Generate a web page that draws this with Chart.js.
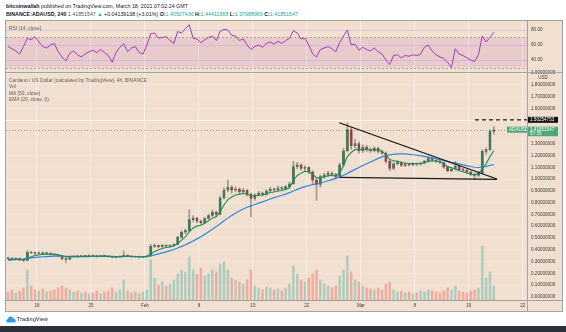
<!DOCTYPE html>
<html>
<head>
<meta charset="utf-8">
<title>ADAUSD 4h</title>
<script src="https://cdn.jsdelivr.net/npm/chart.js@4.4.1/dist/chart.umd.min.js"></script>
<style>
  html, body { margin: 0; padding: 0; background: #fff; }
  body { position: relative; width: 566px; height: 332px; overflow: hidden; font-family: 'Liberation Sans', Arial, sans-serif; color: #131722; }
  .head { position: absolute; left: 6px; font-size: 5.3px; line-height: 6px; white-space: nowrap; }
  .up { color: #26a69a; }
  #panel { position: absolute; left: 5px; top: 20px; width: 558px; height: 292px; box-sizing: border-box; border: 1px solid #a3a3a3; background: #f1dfcf; }
  canvas { position: absolute; }
  .rule { position: absolute; background: #a3a3a3; }
  .legend { position: absolute; left: 9px; font-size: 4.9px; line-height: 6.6px; color: #606060; white-space: nowrap; }
  #brand { position: absolute; left: 17px; top: 316px; font-size: 5.6px; line-height: 6px; color: #222; }
  #logo { position: absolute; left: 6px; top: 316px; }
  #footer { position: absolute; left: 0; top: 326px; width: 566px; height: 6px; background: #2d313b; }
</style>
</head>
<body>
<div class="head" style="top:3px"><b>bitcoinwallah</b> published on TradingView.com, March 18, 2021 07:02:24 GMT</div>
<div class="head" style="top:11px"><b>BINANCE:ADAUSD, 240</b> <span style="color:#555">1.41851547</span> <span class="up">▲</span> +0.04139138 (+3.01%) <b>O:</b><span class="up">1.40507436</span> <b>H:</b><span class="up">1.44411668</span> <b>L:</b><span class="up">1.37988969</span> <b>C:</b><span class="up">1.41851547</span></div>

<div id="panel"></div>
<canvas id="rsiChart" width="556" height="51" style="left:6px;top:21px"></canvas>
<canvas id="priceChart" width="556" height="245" style="left:6px;top:66px"></canvas>
<div class="rule" style="left:6px;top:72px;width:556px;height:1px"></div>
<div class="rule" style="left:6px;top:300px;width:556px;height:1px"></div>
<div class="rule" style="left:527px;top:21px;width:1px;height:290px"></div>

<div class="legend" style="top:26px">RSI (14, close)</div>
<div class="legend" style="top:77.5px">Cardano / US Dollar (calculated by TradingView), 4h, BINANCE<br>Vol<br>MA (50, close)<br>EMA (20, close, 0)</div>

<svg id="logo" width="10" height="7" viewBox="0 0 10 7"><path d="M2.2 6.6 C0.9 6.6 0.2 5.8 0.2 4.9 C0.2 4 0.9 3.3 1.8 3.3 C2 1.8 3.2 0.6 4.8 0.6 C6.2 0.6 7.3 1.5 7.6 2.8 C8.9 2.8 9.8 3.8 9.8 4.8 C9.8 5.8 9 6.6 7.9 6.6 Z" fill="#2a9ff0"/></svg>
<div id="brand">TradingView</div>
<div id="footer"></div>

<script>
document.addEventListener('DOMContentLoaded', function () {
    // time axis counted in days from 18 Jan 00:00; candles are 12h
    const firstDay = -4;
    const candleSpan = 0.5;

    // [open, high, low, close]
    const ohlc = [
        [.330, .334, .318, .325], [.325, .330, .314, .318], [.318, .332, .315, .326], [.326, .328, .308, .312],   // 14-15 Jan
        [.312, .318, .300, .308], [.308, .392, .305, .378], [.378, .386, .366, .372], [.372, .380, .360, .368],   // 16-17 Jan
        [.368, .382, .362, .375], [.375, .379, .360, .366], [.366, .377, .361, .371], [.371, .374, .355, .362],   // 18-19 Jan
        [.362, .366, .350, .356], [.356, .360, .340, .348], [.348, .351, .315, .322], [.322, .330, .290, .318],   // 20-21 Jan
        [.318, .342, .314, .338], [.338, .350, .333, .345], [.345, .349, .336, .342], [.342, .353, .339, .348],   // 22-23 Jan
        [.348, .351, .339, .344], [.344, .356, .341, .351], [.351, .354, .341, .346], [.346, .349, .336, .342],   // 24-25 Jan
        [.342, .353, .339, .349], [.349, .352, .340, .345], [.345, .348, .335, .340], [.340, .343, .330, .335],   // 26-27 Jan
        [.335, .342, .331, .338], [.338, .349, .335, .344], [.344, .390, .341, .352], [.352, .356, .341, .346],   // 28-29 Jan
        [.346, .349, .333, .338], [.338, .346, .335, .342], [.342, .345, .331, .336], [.336, .344, .333, .340],   // 30-31 Jan
        [.340, .350, .337, .345], [.345, .445, .343, .428], [.428, .448, .420, .435], [.435, .440, .415, .425],   // 1-2 Feb
        [.425, .444, .421, .438], [.438, .442, .422, .430], [.430, .441, .425, .436], [.436, .452, .431, .445],   // 3-4 Feb
        [.445, .515, .440, .505], [.505, .560, .498, .548], [.548, .575, .535, .562], [.562, .740, .555, .655],   // 5-6 Feb
        [.655, .690, .640, .668], [.668, .675, .630, .642], [.642, .652, .615, .630], [.630, .675, .622, .665],   // 7-8 Feb
        [.665, .702, .655, .690], [.690, .735, .680, .720], [.720, .728, .680, .700], [.700, .855, .695, .840],   // 9-10 Feb
        [.840, .925, .830, .905], [.905, .990, .890, .930], [.930, .945, .880, .905], [.905, .935, .890, .915],   // 11-12 Feb
        [.915, .925, .870, .890], [.890, .920, .880, .905], [.905, .912, .855, .870], [.870, .880, .680, .835],   // 13-14 Feb
        [.835, .875, .820, .865], [.865, .895, .855, .880], [.880, .890, .855, .870], [.870, .910, .862, .900],   // 15-16 Feb
        [.900, .930, .890, .915], [.915, .925, .895, .905], [.905, .940, .898, .925], [.925, .935, .905, .918],   // 17-18 Feb
        [.918, .945, .910, .935], [.935, .975, .925, .960], [.960, 1.150, .955, 1.105], [1.105, 1.140, 1.085, 1.120], // 19-20 Feb
        [1.120, 1.130, 1.075, 1.090], [1.090, 1.115, 1.070, 1.100], [1.100, 1.105, 1.045, 1.060], [1.060, 1.070, .960, .990], // 21-22 Feb
        [.990, 1.010, .820, .955], [.955, 1.035, .930, 1.020], [1.020, 1.050, 1.005, 1.035], [1.035, 1.065, 1.020, 1.050], // 23-24 Feb
        [1.050, 1.060, 1.025, 1.040], [1.040, 1.048, 1.000, 1.015], [1.015, 1.135, 1.010, 1.120], [1.120, 1.260, 1.110, 1.240], // 25-26 Feb
        [1.240, 1.475, 1.230, 1.420], [1.420, 1.435, 1.250, 1.280], [1.280, 1.340, 1.265, 1.300], [1.300, 1.315, 1.220, 1.240], // 27-28 Feb
        [1.240, 1.290, 1.225, 1.270], [1.270, 1.285, 1.235, 1.250], [1.250, 1.265, 1.225, 1.240], [1.240, 1.275, 1.230, 1.260], // 1-2 Mar
        [1.260, 1.270, 1.220, 1.235], [1.235, 1.245, 1.205, 1.220], [1.220, 1.228, 1.135, 1.150], [1.150, 1.160, 1.070, 1.090], // 3-4 Mar
        [1.090, 1.140, 1.080, 1.130], [1.130, 1.155, 1.120, 1.140], [1.140, 1.148, 1.105, 1.115], [1.115, 1.135, 1.105, 1.125], // 5-6 Mar
        [1.125, 1.132, 1.110, 1.120], [1.120, 1.140, 1.112, 1.130], [1.130, 1.138, 1.115, 1.125], [1.125, 1.145, 1.118, 1.135], // 7-8 Mar
        [1.135, 1.160, 1.128, 1.150], [1.150, 1.190, 1.142, 1.175], [1.175, 1.182, 1.150, 1.160], [1.160, 1.168, 1.140, 1.150], // 9-10 Mar
        [1.150, 1.158, 1.130, 1.140], [1.140, 1.145, 1.090, 1.100], [1.100, 1.108, 1.060, 1.070], [1.070, 1.095, 1.062, 1.085], // 11-12 Mar
        [1.085, 1.150, 1.078, 1.110], [1.110, 1.118, 1.070, 1.080], [1.080, 1.090, 1.065, 1.075], [1.075, 1.082, 1.050, 1.060], // 13-14 Mar
        [1.060, 1.068, 1.030, 1.040], [1.040, 1.050, .995, 1.030], [1.030, 1.060, 1.022, 1.050], [1.050, 1.250, 1.045, 1.235], // 15-16 Mar
        [1.235, 1.265, 1.210, 1.250], [1.250, 1.420, 1.240, 1.405], [1.40507436, 1.44411668, 1.37988969, 1.41851547]        // 17-18 Mar
    ];

    const volume = [
        80, 100, 70, 90, 120, 300, 140, 100, 90, 110, 80, 90, 100, 120, 140, 120,
        100, 80, 90, 70, 80, 60, 70, 90, 60, 80, 90, 120, 80, 100, 200, 90, 70, 80, 60, 80, 100,
        400, 220, 150, 180, 140, 160, 200, 260, 300, 280, 430,
        300, 260, 320, 240, 260, 300, 280, 360, 380, 300, 220, 200, 180, 160, 200, 300,
        140, 120, 100, 130, 120, 100, 110, 90, 120, 160, 340, 260, 200, 180, 220, 260, 300,
        200, 160, 140, 120, 140, 240, 300, 440, 280, 200, 180, 140, 120, 110, 100, 120, 100, 160, 180,
        100, 80, 90, 70, 80, 60, 70, 90, 80, 100, 90, 80, 70, 90, 120, 100, 140, 90, 80, 70, 90, 100, 120,
        540, 220, 280, 140
    ];

    const rsi14 = [
        58, 55, 52, 48, 58, 69, 67, 71, 64, 58,
        56, 60, 62, 51, 44, 39, 49, 52, 47, 44,
        48, 51, 53, 50, 54, 50, 46, 37, 50, 57,
        62, 51, 56, 58, 50, 48, 60, 75, 76, 69,
        70, 71, 66, 62, 78, 76, 82, 87, 69, 68,
        63, 67, 70, 72, 66, 78, 81, 80, 73, 72,
        66, 68, 60, 54, 58, 60, 57, 62, 64, 61,
        65, 62, 66, 69, 79, 76, 68, 69, 60, 48,
        44, 54, 56, 58, 55, 51, 63, 72, 80, 60,
        61, 53, 57, 54, 52, 56, 51, 48, 40, 34,
        46, 47, 43, 46, 45, 47, 46, 48, 57, 60,
        52, 47, 44, 42, 37, 30, 55, 48, 46, 43,
        40, 38, 47, 72, 64, 70, 77
    ];

    const ma50 = [
        .310, .313, .316, .319, .322, .326, .330, .334, .337, .340,
        .342, .344, .346, .346, .345, .344, .343, .343, .342, .342,
        .342, .342, .343, .343, .344, .344, .344, .343, .342, .342,
        .342, .343, .343, .342, .342, .342, .343, .348, .356, .364,
        .373, .382, .392, .402, .414, .428, .442, .458, .474, .492,
        .510, .530, .552, .574, .596, .620, .645, .668, .690, .710,
        .728, .745, .760, .772, .784, .795, .806, .818, .830, .842,
        .852, .862, .872, .884, .898, .912, .925, .936, .945, .952,
        .958, .966, .975, .985, .995, 1.005, 1.018, 1.032, 1.048, 1.065,
        1.082, 1.098, 1.115, 1.130, 1.145, 1.160, 1.175, 1.188, 1.198, 1.205,
        1.210, 1.213, 1.214, 1.213, 1.210, 1.206, 1.202, 1.198, 1.192, 1.186,
        1.180, 1.172, 1.165, 1.158, 1.150, 1.142, 1.135, 1.128, 1.120, 1.113,
        1.106, 1.100, 1.098, 1.102, 1.108, 1.115, 1.122
    ];

    const ema20 = [
        .318, .318, .319, .317, .314, .328, .340, .350, .357, .360,
        .362, .362, .360, .356, .348, .340, .339, .340, .341, .342,
        .343, .345, .345, .344, .345, .345, .343, .341, .340, .341,
        .344, .345, .343, .342, .340, .339, .341, .365, .385, .398,
        .410, .418, .424, .432, .452, .482, .510, .552, .585, .600,
        .608, .625, .645, .668, .680, .725, .780, .825, .848, .865,
        .870, .878, .872, .858, .858, .862, .864, .874, .885, .890,
        .898, .903, .912, .925, .985, 1.030, 1.050, 1.065, 1.062, 1.040,
        1.010, 1.012, 1.018, 1.028, 1.032, 1.026, 1.050, 1.110, 1.190, 1.225,
        1.250, 1.248, 1.252, 1.250, 1.247, 1.250, 1.244, 1.236, 1.205, 1.165,
        1.155, 1.150, 1.140, 1.136, 1.132, 1.131, 1.130, 1.132, 1.138, 1.150,
        1.155, 1.153, 1.148, 1.130, 1.105, 1.095, 1.085, 1.070, 1.062, 1.052,
        1.040, 1.034, 1.048, 1.085, 1.130, 1.190, 1.240
    ];

    const xTickDays = [0, 7, 14, 21, 28, 35, 42, 49, 56, 63];
    const xTickLabels = ['18', '25', 'Feb', '8', '15', '22', 'Mar', '8', '15', '22'];
    const priceTicks = [0, 0.1, 0.2, 0.3, 0.4, 0.5, 0.6, 0.7, 0.8, 0.9, 1.0, 1.1, 1.2, 1.3, 1.4, 1.5, 1.6, 1.7, 1.8, 1.9];
    const rsiTicks = [40, 60, 80];

    // drawings: alert level, falling wedge top and flat base
    const alertLevel = 1.50254753;
    const alertFrom = 56.8;
    const resistance = [[39.2, 1.478], [59.66, 1.0]];
    const support = [[39.3, 1.014], [59.66, 0.997]];

    const xMin = -4.02;
    const xMax = 63.55;
    const tickFont = { family: "'Liberation Sans', Arial, sans-serif", size: 4.6 };
    const lastClose = ohlc[ohlc.length - 1][3];

    const candleX = ohlc.map((c, i) => firstDay + i * candleSpan + candleSpan / 2);
    const isUp = ohlc.map(c => c[3] >= c[0]);
    const toPoints = arr => arr.map((v, i) => ({ x: candleX[i], y: v }));

    // fixed axis width, and no label padding eating into the plot height
    function fitPriceAxis(s) {
        s.width = 35;
        s.paddingTop = 0;
        s.paddingBottom = 0;
    }

    function timeAxis(showLabels) {
        return {
            type: 'linear',
            min: xMin,
            max: xMax,
            offset: false,
            afterBuildTicks: s => { s.ticks = xTickDays.map(v => ({ value: v })); },
            afterFit: s => {
                s.height = showLabels ? 11 : 0;
                s.paddingLeft = 0;
                s.paddingRight = 0;
            },
            grid: { color: 'rgba(255,255,255,0.55)', drawTicks: false, offset: false },
            border: { display: false },
            ticks: {
                display: showLabels,
                autoSkip: false,
                maxRotation: 0,
                padding: 3,
                color: '#444',
                font: tickFont,
                callback: v => xTickLabels[xTickDays.indexOf(v)]
            }
        };
    }

    // overbought / oversold band
    const rsiBand = {
        id: 'rsiBand',
        beforeDatasetsDraw(chart) {
            const { ctx, chartArea: a, scales: { y } } = chart;
            const top = y.getPixelForValue(70);
            const bottom = y.getPixelForValue(30);
            ctx.save();
            ctx.fillStyle = 'rgba(156,39,176,0.1)';
            ctx.fillRect(a.left, top, a.right - a.left, bottom - top);
            ctx.strokeStyle = 'rgba(120,120,120,0.55)';
            ctx.lineWidth = 1;
            ctx.setLineDash([2, 2]);
            [top, bottom].forEach(py => {
                ctx.beginPath();
                ctx.moveTo(a.left, Math.round(py) + 0.5);
                ctx.lineTo(a.right, Math.round(py) + 0.5);
                ctx.stroke();
            });
            ctx.restore();
        }
    };

    function tag(ctx, x, top, w, h, fill, lines) {
        ctx.fillStyle = fill;
        ctx.fillRect(x, top, w, h);
        ctx.fillStyle = '#fff';
        ctx.textBaseline = 'middle';
        ctx.textAlign = 'left';
        ctx.font = "4.6px 'Liberation Sans', Arial, sans-serif";
        lines.forEach((t, i) => ctx.fillText(t, x + 2, top + 3 + i * 4.2));
    }

    const priceOverlay = {
        id: 'priceOverlay',
        beforeDatasetsDraw(chart) {
            const { ctx, chartArea: a, scales: { y } } = chart;
            ctx.save();
            ctx.lineWidth = 1;
            const ya = Math.round(y.getPixelForValue(alertLevel)) + 0.5;
            ctx.strokeStyle = 'rgba(255,255,255,0.7)';
            ctx.beginPath();
            ctx.moveTo(a.left, ya);
            ctx.lineTo(a.right, ya);
            ctx.stroke();
            const yc = Math.round(y.getPixelForValue(lastClose)) + 0.5;
            ctx.strokeStyle = 'rgba(110,105,80,0.6)';
            ctx.setLineDash([1, 2]);
            ctx.beginPath();
            ctx.moveTo(a.left, yc);
            ctx.lineTo(a.right, yc);
            ctx.stroke();
            ctx.restore();
        },
        afterDraw(chart) {
            const { ctx, chartArea: a, scales: { y } } = chart;
            ctx.save();
            ctx.fillStyle = '#444';
            ctx.font = "4.6px 'Liberation Sans', Arial, sans-serif";
            ctx.textAlign = 'center';
            ctx.textBaseline = 'middle';
            ctx.fillText('USD', a.right + 16, y.getPixelForValue(1.9) + 5);
            const ya = y.getPixelForValue(alertLevel);
            tag(ctx, a.right + 1, ya - 3, 30, 6, '#131313', [alertLevel.toFixed(8)]);
            const yc = y.getPixelForValue(lastClose);
            tag(ctx, a.right + 1, yc - 3, 30, 9.5, '#4fa877', [lastClose.toFixed(8), '57:35']);
            tag(ctx, a.right - 20, yc - 3, 20, 6, '#4fa877', ['ADAUSD']);
            ctx.restore();
        }
    };

    new Chart(document.getElementById('rsiChart').getContext('2d'), {
        type: 'line',
        data: {
            datasets: [{
                data: toPoints(rsi14),
                borderColor: '#a23bbd',
                borderWidth: 1,
                pointRadius: 0,
                tension: 0
            }]
        },
        options: {
            animation: false,
            responsive: false,
            devicePixelRatio: 1,
            layout: { padding: 0, autoPadding: false },
            plugins: { legend: { display: false }, tooltip: { enabled: false } },
            scales: {
                x: timeAxis(false),
                y: {
                    position: 'right',
                    min: 24,
                    max: 92,
                    afterBuildTicks: s => { s.ticks = rsiTicks.map(v => ({ value: v })); },
                    afterFit: fitPriceAxis,
                    grid: { color: 'rgba(205,185,235,0.6)', drawTicks: false },
                    border: { display: false },
                    ticks: { padding: 4, color: '#3c3c3c', font: tickFont, callback: v => v.toFixed(2) }
                }
            }
        },
        plugins: [rsiBand]
    });

    new Chart(document.getElementById('priceChart').getContext('2d'), {
        type: 'bar',
        data: {
            datasets: [
                {
                    label: 'Vol',
                    yAxisID: 'vol',
                    data: toPoints(volume),
                    backgroundColor: isUp.map(u => u ? 'rgba(38,166,154,0.34)' : 'rgba(239,83,80,0.38)'),
                    barThickness: 1.8,
                    grouped: false,
                    order: 10
                },
                {
                    label: 'wicks',
                    data: ohlc.map((c, i) => ({ x: candleX[i], y: [c[2], c[1]] })),
                    backgroundColor: 'rgba(110,105,100,0.6)',
                    barThickness: 1,
                    grouped: false,
                    order: 8
                },
                {
                    label: 'ADAUSD',
                    data: ohlc.map((c, i) => ({ x: candleX[i], y: [c[0], c[3]] })),
                    backgroundColor: isUp.map(u => u ? '#34805a' : '#a83a36'),
                    borderColor: 'rgba(35,35,35,0.55)',
                    borderWidth: 0.5,
                    borderSkipped: false,
                    barThickness: 2.4,
                    minBarLength: 1,
                    grouped: false,
                    order: 7
                },
                {
                    type: 'line',
                    label: 'MA (50, close)',
                    data: toPoints(ma50),
                    borderColor: '#2f86e0',
                    borderWidth: 1.2,
                    pointRadius: 0,
                    order: 5
                },
                {
                    type: 'line',
                    label: 'EMA (20, close, 0)',
                    data: toPoints(ema20),
                    borderColor: '#17905e',
                    borderWidth: 1.1,
                    pointRadius: 0,
                    order: 4
                },
                {
                    type: 'line',
                    label: 'alert',
                    data: [{ x: alertFrom, y: alertLevel }, { x: xMax, y: alertLevel }],
                    borderColor: '#1a1a1a',
                    borderWidth: 1.3,
                    borderDash: [4, 3],
                    pointRadius: 0,
                    order: 3
                },
                {
                    type: 'line',
                    label: 'resistance',
                    data: resistance.map(p => ({ x: p[0], y: p[1] })),
                    borderColor: '#111',
                    borderWidth: 1.2,
                    pointRadius: 0,
                    order: 2
                },
                {
                    type: 'line',
                    label: 'support',
                    data: support.map(p => ({ x: p[0], y: p[1] })),
                    borderColor: '#1b1b1b',
                    borderWidth: 1.2,
                    pointRadius: 0,
                    order: 1
                }
            ]
        },
        options: {
            animation: false,
            responsive: false,
            devicePixelRatio: 1,
            layout: { padding: { top: 7 }, autoPadding: false },
            plugins: { legend: { display: false }, tooltip: { enabled: false } },
            scales: {
                x: timeAxis(true),
                y: {
                    position: 'right',
                    min: -0.027,
                    max: 1.9,
                    afterBuildTicks: s => { s.ticks = priceTicks.map(v => ({ value: v })); },
                    afterFit: fitPriceAxis,
                    grid: { color: 'rgba(255,255,255,0.18)', drawTicks: false },
                    border: { display: false },
                    ticks: { padding: 4, autoSkip: false, color: '#3c3c3c', font: tickFont, callback: v => v.toFixed(8) }
                },
                vol: { display: false, min: 0, max: 2270 }
            }
        },
        plugins: [priceOverlay]
    });
});
</script>
</body>
</html>
